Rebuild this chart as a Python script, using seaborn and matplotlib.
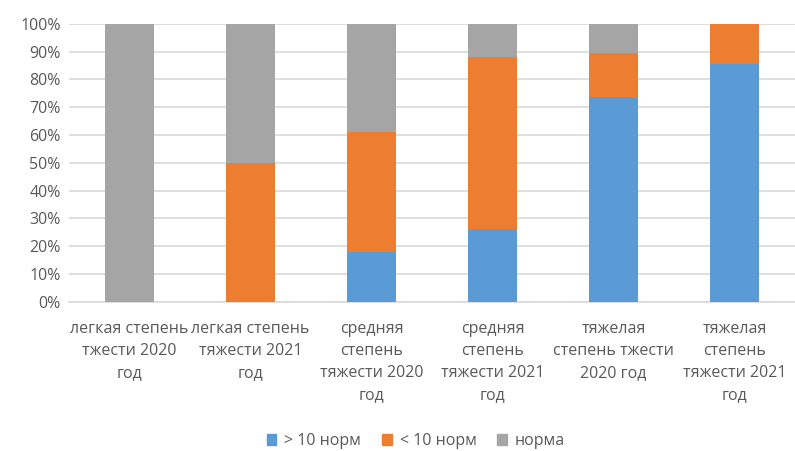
import matplotlib.pyplot as plt
import seaborn as sns
import pandas as pd
import numpy as np

categories = [
    "легкая степень\nтжести 2020\nгод",
    "легкая степень\nтяжести 2021\nгод",
    "средняя\nстепень\nтяжести 2020\nгод",
    "средняя\nстепень\nтяжести 2021\nгод",
    "тяжелая\nстепень тжести\n2020 год",
    "тяжелая\nстепень\nтяжести 2021\nгод",
]
over_10 = [0.0, 0.0, 18.0, 26.2, 73.8, 85.7]
under_10 = [0.0, 50.0, 43.0, 61.8, 15.6, 14.3]
norm = [100.0, 50.0, 39.0, 12.0, 10.6, 0.0]
series_names = ["> 10 норм", "< 10 норм", "норма"]
colors = ["#5B9BD5", "#ED7D31", "#A5A5A5"]

# cumulative tops, drawn back to front so each layer covers the one behind
df = pd.DataFrame({"cat": categories, "s1": over_10, "s2": under_10, "s3": norm})
df["top1"] = df["s1"]
df["top2"] = df["s1"] + df["s2"]
df["top3"] = df["top2"] + df["s3"]

sns.set_theme(style="white")
plt.rcParams["font.family"] = ["Open Sans", "DejaVu Sans"]
text_color = "#595959"

fig = plt.figure(figsize=(7.95, 4.51), dpi=100)
ax = fig.add_axes([0.087, 0.331, 0.913, 0.616])

for col, color in zip(["top3", "top2", "top1"], colors[::-1]):
    sns.barplot(data=df, x="cat", y=col, color=color, width=0.4,
                saturation=1, linewidth=0, ax=ax, zorder=3)

ax.set_ylim(0, 100)
ax.set_xlim(-0.5, 5.5)
ax.set_yticks(np.arange(0, 101, 10))
ax.set_yticklabels([f"{v}%" for v in range(0, 101, 10)])
ax.yaxis.grid(True, color="#D9D9D9", linewidth=1.2, zorder=0)
ax.set_axisbelow(True)
for s in ["top", "right", "left"]:
    ax.spines[s].set_visible(False)
ax.spines["bottom"].set_color("#D9D9D9")
ax.spines["bottom"].set_linewidth(1.2)
ax.tick_params(axis="both", length=0, colors=text_color, labelsize=11.5)
ax.tick_params(axis="y", pad=6)
ax.tick_params(axis="x", pad=14)
ax.set_xlabel("")
ax.set_ylabel("")
for lbl in ax.get_xticklabels():
    lbl.set_linespacing(1.5)

handles = [plt.Rectangle((0, 0), 1, 1, color=c) for c in colors]
fig.legend(handles, series_names, loc="center", bbox_to_anchor=(0.523, 0.022),
           ncol=3, frameon=False, fontsize=11.5, labelcolor=text_color,
           handlelength=0.6, handleheight=0.6, handletextpad=0.5,
           columnspacing=1.3)

fig.savefig("out.png", dpi=100)
